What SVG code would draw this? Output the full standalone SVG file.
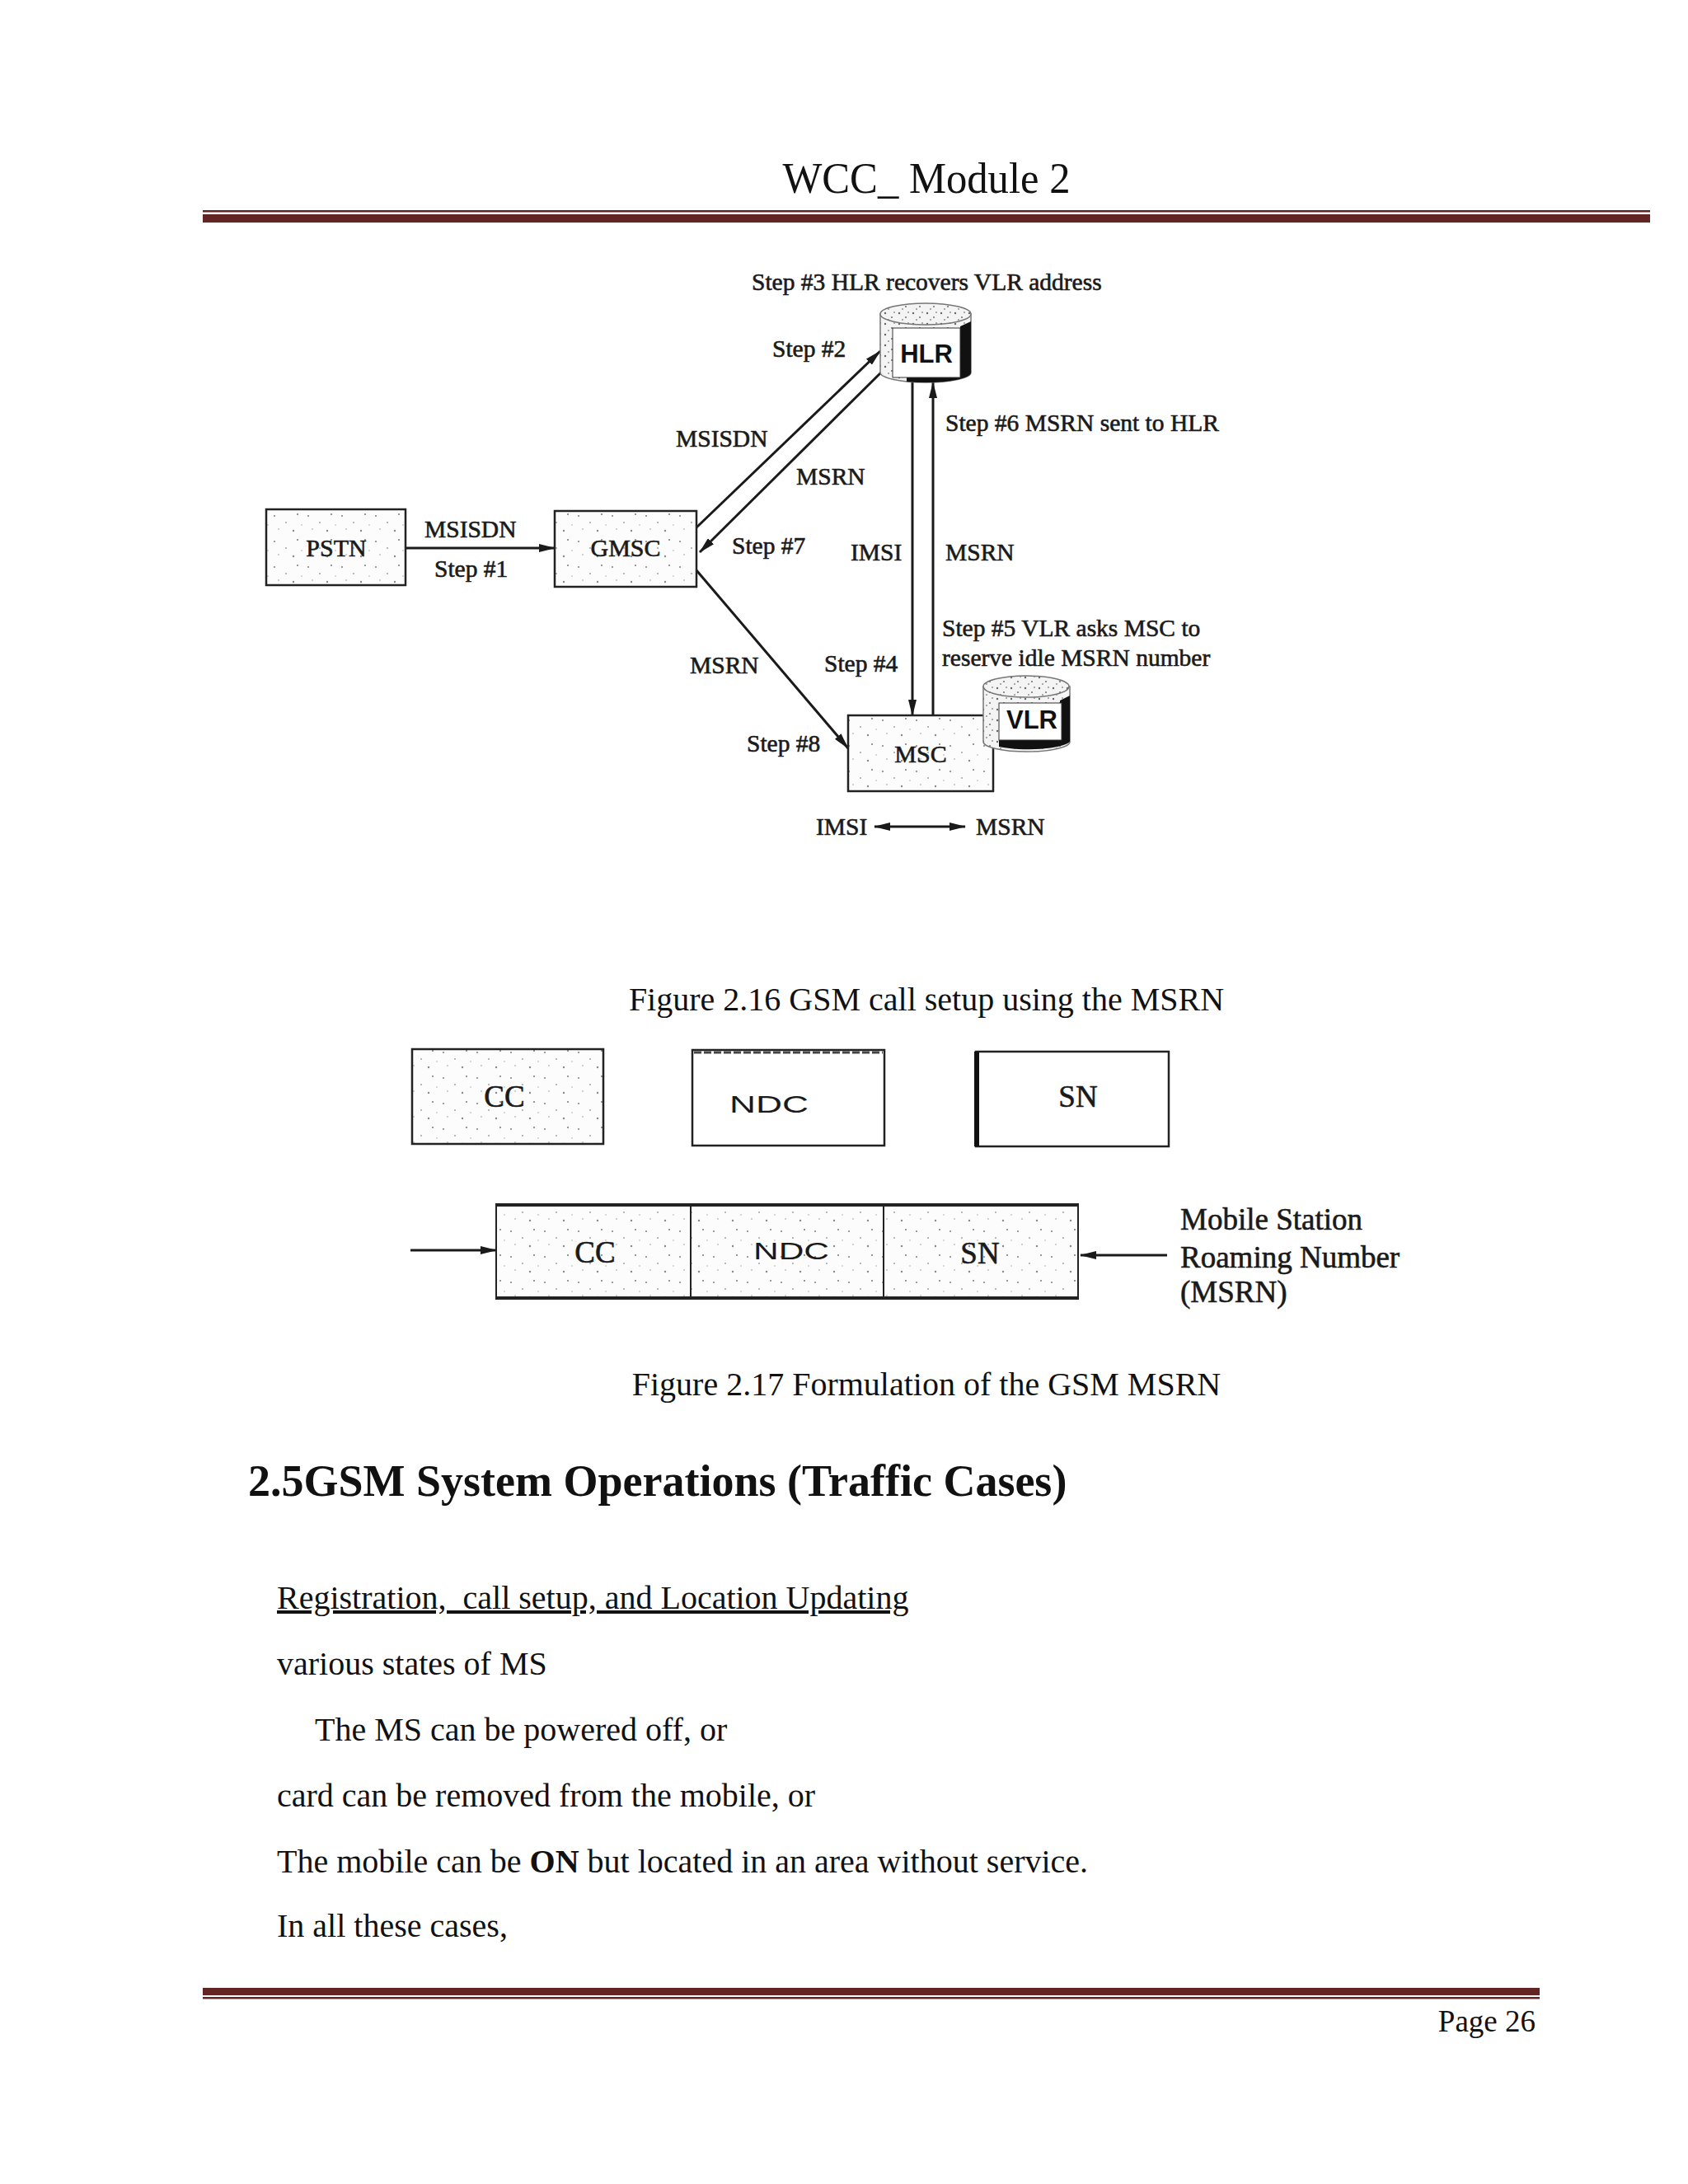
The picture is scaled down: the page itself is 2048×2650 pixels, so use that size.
<svg xmlns="http://www.w3.org/2000/svg" width="2048" height="2650" viewBox="0 0 2048 2650">
<style>
.page{fill:#fff}
.rule{fill:#632523}
.hdr{font-family:"Liberation Serif","DejaVu Serif",serif;font-size:52px;fill:#111}
.lbl{font-family:"Liberation Serif","DejaVu Serif",serif;font-size:29.5px;fill:#1a1a1a;stroke:#1a1a1a;stroke-width:0.6}
.box{font-family:"Liberation Serif","DejaVu Serif",serif;font-size:30px;fill:#1a1a1a;stroke:#1a1a1a;stroke-width:0.6}
.db{font-family:"Liberation Sans","DejaVu Sans",sans-serif;font-size:31px;font-weight:bold;fill:#111}
.lbl2{font-family:"Liberation Serif","DejaVu Serif",serif;font-size:37px;fill:#1a1a1a;stroke:#1a1a1a;stroke-width:0.6}
.sans2{font-family:"Liberation Sans","DejaVu Sans",sans-serif;font-size:30px;fill:#1a1a1a}
.body{font-family:"Liberation Serif","DejaVu Serif",serif;font-size:40px;fill:#111}
.head{font-family:"Liberation Serif","DejaVu Serif",serif;font-size:54px;font-weight:bold;fill:#111}
.nb{stroke:#222;stroke-width:2.5}
.ln{stroke:#1a1a1a;stroke-width:3;fill:none}
</style>
<defs>
<pattern id="speck" width="41" height="31" patternUnits="userSpaceOnUse">
<rect width="41" height="31" fill="#fcfcfc"/>
<circle cx="5" cy="6" r="1.1" fill="#888"/>
<circle cx="19" cy="14" r="0.9" fill="#999"/>
<circle cx="33" cy="4" r="1" fill="#777"/>
<circle cx="28" cy="24" r="1.2" fill="#888"/>
<circle cx="10" cy="22" r="0.8" fill="#999"/>
<circle cx="38" cy="17" r="0.8" fill="#aaa"/>
</pattern>
<pattern id="speckd" width="17" height="13" patternUnits="userSpaceOnUse">
<rect width="17" height="13" fill="#f4f4f4"/>
<circle cx="3" cy="3" r="1.2" fill="#666"/>
<circle cx="11" cy="8" r="1.1" fill="#777"/>
<circle cx="7" cy="11" r="0.9" fill="#888"/>
<circle cx="14" cy="2" r="0.9" fill="#888"/>
</pattern>
<marker id="ah" viewBox="0 0 20 10" refX="19" refY="5" markerWidth="20" markerHeight="10" markerUnits="userSpaceOnUse" orient="auto-start-reverse">
<path d="M0,0 L20,5 L0,10 Z" fill="#1a1a1a"/>
</marker>
</defs>
<rect class="page" x="0" y="0" width="2048" height="2650"/>

<!-- page header -->
<g id="header">
<text class="hdr" x="1124" y="234" text-anchor="middle" textLength="349" lengthAdjust="spacingAndGlyphs">WCC_ Module 2</text>
<rect class="rule" x="246" y="255" width="1756" height="2.5"/>
<rect class="rule" x="246" y="260" width="1756" height="10"/>
</g>

<!-- Figure 2.16 -->
<g id="connectors">
<line class="ln" x1="492" y1="665" x2="673" y2="665" marker-end="url(#ah)" stroke-width="3.5"/>
<line class="ln" x1="845" y1="640" x2="1068" y2="426" marker-end="url(#ah)"/>
<line class="ln" x1="1078" y1="443" x2="849" y2="670" marker-end="url(#ah)"/>
<line class="ln" x1="1107" y1="463" x2="1107" y2="868" marker-end="url(#ah)"/>
<line class="ln" x1="1132" y1="868" x2="1132" y2="464" marker-end="url(#ah)"/>
<line class="ln" x1="845" y1="692" x2="1029" y2="908" marker-end="url(#ah)"/>
<line class="ln" x1="1061" y1="1003" x2="1171" y2="1003" marker-start="url(#ah)" marker-end="url(#ah)" stroke-width="3.5"/>
<line class="ln" x1="498" y1="1517" x2="602" y2="1517" marker-end="url(#ah)" stroke-width="3.5"/>
<line class="ln" x1="1416" y1="1523" x2="1311" y2="1523" marker-end="url(#ah)" stroke-width="3.5"/>
</g>

<g id="pstn">
<rect class="nb" x="323" y="618" width="169" height="92" fill="url(#speck)"/>
<text class="box" x="408" y="675" text-anchor="middle">PSTN</text>
</g>
<g id="gmsc">
<rect class="nb" x="673" y="620" width="172" height="92" fill="url(#speck)"/>
<text class="box" x="759" y="675" text-anchor="middle">GMSC</text>
</g>
<g id="hlr">
<path d="M1068,381 L1068,452 A55,12 0 0 0 1178,452 L1178,381 Z" fill="url(#speckd)" stroke="#777" stroke-width="1.5"/>
<ellipse cx="1123" cy="381" rx="55" ry="13" fill="url(#speckd)" stroke="#777" stroke-width="1.5"/>
<path d="M1165,396 L1178,390 L1178,452 A55,12 0 0 1 1100,463 L1100,457 L1165,457 Z" fill="#111"/>
<rect x="1083" y="398" width="82" height="60" fill="#fff" stroke="#333" stroke-width="1"/>
<text class="db" x="1124" y="440" text-anchor="middle">HLR</text>
</g>
<g id="msc">
<rect class="nb" x="1029" y="868" width="176" height="92" fill="url(#speck)"/>
<text class="box" x="1117" y="925" text-anchor="middle">MSC</text>
</g>
<g id="vlr">
<path d="M1193,833 L1193,900 A52,12 0 0 0 1298,900 L1298,833 Z" fill="url(#speckd)" stroke="#777" stroke-width="1.5"/>
<ellipse cx="1245" cy="833" rx="52" ry="13" fill="url(#speckd)" stroke="#777" stroke-width="1.5"/>
<path d="M1286,850 L1298,844 L1298,900 A52,12 0 0 1 1212,906 L1212,898 L1286,898 Z" fill="#111"/>
<rect x="1212" y="853" width="76" height="45" fill="#fff" stroke="#333" stroke-width="1"/>
<text class="db" x="1252" y="884" text-anchor="middle">VLR</text>
</g>

<g id="labels">
<text class="lbl" x="912" y="352">Step #3 HLR recovers VLR address</text>
<text class="lbl" x="937" y="433">Step #2</text>
<text class="lbl" x="820" y="542">MSISDN</text>
<text class="lbl" x="966" y="588">MSRN</text>
<text class="lbl" x="1147" y="523">Step #6 MSRN sent to HLR</text>
<text class="lbl" x="515" y="652">MSISDN</text>
<text class="lbl" x="527" y="700">Step #1</text>
<text class="lbl" x="888" y="672">Step #7</text>
<text class="lbl" x="1032" y="680">IMSI</text>
<text class="lbl" x="1147" y="680">MSRN</text>
<text class="lbl" x="1143" y="772">Step #5 VLR asks MSC to</text>
<text class="lbl" x="1143" y="808">reserve idle MSRN number</text>
<text class="lbl" x="837" y="817">MSRN</text>
<text class="lbl" x="1000" y="815">Step #4</text>
<text class="lbl" x="906" y="912">Step #8</text>
<text class="lbl" x="990" y="1013">IMSI</text>
<text class="lbl" x="1184" y="1013">MSRN</text>
</g>

<text class="body" x="1124" y="1226" text-anchor="middle">Figure 2.16 GSM call setup using the MSRN</text>

<!-- Figure 2.17 -->
<g id="cc-top">
<rect class="nb" x="500" y="1273" width="232" height="115" fill="url(#speck)" stroke-width="3.5"/>
<text class="lbl2" x="612" y="1343" text-anchor="middle">CC</text>
</g>
<g id="ndc-top">
<rect class="nb" x="840" y="1274" width="233" height="116" fill="#fff" stroke-width="3.5"/>
<line x1="842" y1="1277" x2="1071" y2="1277" stroke="#444" stroke-width="3" stroke-dasharray="9 3"/>
<text class="sans2" x="933" y="1350" text-anchor="middle" textLength="96" lengthAdjust="spacingAndGlyphs">NDC</text>
</g>
<g id="sn-top">
<rect class="nb" x="1184" y="1276" width="234" height="115" fill="#fff" stroke-width="3"/>
<line x1="1185" y1="1276" x2="1185" y2="1391" stroke="#111" stroke-width="6"/>
<text class="lbl2" x="1308" y="1343" text-anchor="middle">SN</text>
</g>

<g id="msrn-format">
<rect x="602" y="1461" width="706" height="115" fill="url(#speck)" stroke="#222" stroke-width="2"/>
<line x1="602" y1="1462" x2="1308" y2="1462" stroke="#222" stroke-width="4"/>
<line x1="602" y1="1575" x2="1308" y2="1575" stroke="#222" stroke-width="4"/>
<line x1="838" y1="1461" x2="838" y2="1576" stroke="#222" stroke-width="2"/>
<line x1="1072" y1="1461" x2="1072" y2="1576" stroke="#222" stroke-width="2"/>
<text class="lbl2" x="722" y="1532" text-anchor="middle">CC</text>
<text class="sans2" x="960" y="1528" text-anchor="middle" textLength="92" lengthAdjust="spacingAndGlyphs">NDC</text>
<text class="lbl2" x="1189" y="1533" text-anchor="middle">SN</text>
</g>
<g id="msrn-label">
<text class="lbl2" x="1432" y="1492">Mobile Station</text>
<text class="lbl2" x="1432" y="1538">Roaming Number</text>
<text class="lbl2" x="1432" y="1580">(MSRN)</text>
</g>

<text class="body" x="1124" y="1693" text-anchor="middle">Figure 2.17 Formulation of the GSM MSRN</text>

<!-- body text -->
<text class="head" x="301" y="1815">2.5GSM System Operations (Traffic Cases)</text>
<text class="body" x="336" y="1952" text-decoration="underline">Registration,&#160; call setup, and Location Updating</text>
<text class="body" x="336" y="2032">various states of MS</text>
<text class="body" x="382" y="2112">The MS can be powered off, or</text>
<text class="body" x="336" y="2192">card can be removed from the mobile, or</text>
<text class="body" x="336" y="2272">The mobile can be <tspan font-weight="bold">ON</tspan> but located in an area without service.</text>
<text class="body" x="336" y="2350">In all these cases,</text>

<!-- footer -->
<g id="footer">
<rect class="rule" x="246" y="2412" width="1622" height="9"/>
<rect class="rule" x="246" y="2423" width="1622" height="2.5"/>
<text class="hdr" x="1863" y="2465" text-anchor="end" style="font-size:37px">Page 26</text>
</g>
</svg>
